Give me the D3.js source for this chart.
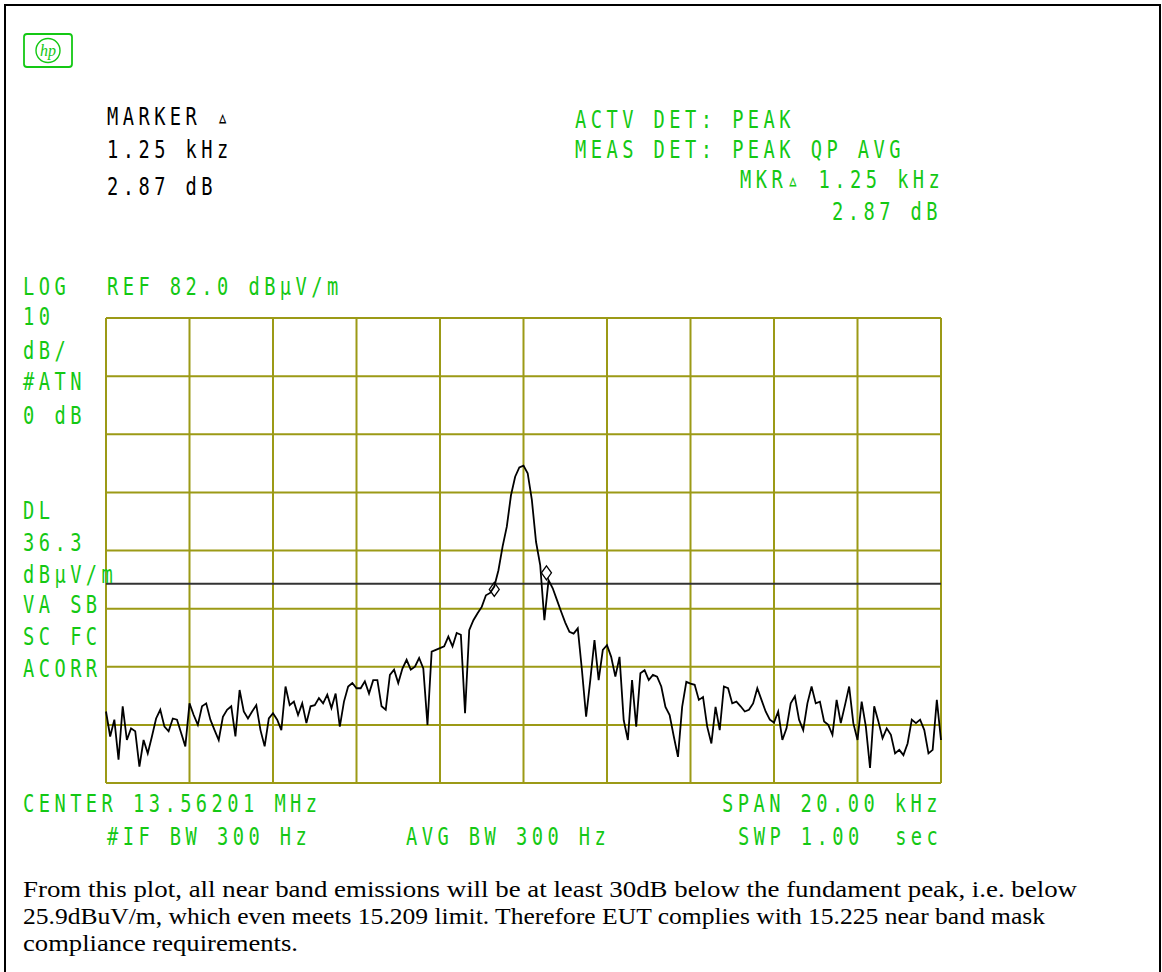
<!DOCTYPE html>
<html>
<head>
<meta charset="utf-8">
<script src="https://cdn.jsdelivr.net/npm/d3@7"></script>
<style>
body{margin:0;background:#fff}
svg{display:block}
text{white-space:pre}
</style>
</head>
<body>
<svg id="c" width="1162" height="972"></svg>
<script>
// ---------- data ----------
const centerMHz = 13.56201;
const spanKHz = 20;
const refLevel = 82.0;      // dBµV/m, top of screen
const dbPerDiv = 10;
const numDivY = 8;
const displayLine = 36.3;   // dBµV/m
const xGridKHz = [-10,-8,-6,-4,-2,0,2,4,6,8,10];
const yGridDb = [2,12,22,32,42,52,62,72,82];

// trace level (dBµV/m), sweep points every 0.1 kHz from -10 kHz to +10 kHz
const levelDb = [
14.3,10.0,12.9,6.0,15.2,9.4,11.4,10.9,4.8,9.4,
7.1,10.0,13.1,14.6,11.7,10.9,13.1,12.9,10.6,8.3,
15.7,13.7,12.0,15.2,15.7,12.9,11.1,9.4,13.4,14.6,
15.2,10.0,18.0,14.3,13.1,14.3,15.4,11.1,8.3,13.1,
14.0,12.9,11.1,18.6,15.4,16.0,13.7,15.7,12.3,15.2,
15.4,16.6,15.7,17.2,14.9,17.4,11.7,16.0,18.6,19.2,
18.3,18.3,19.5,17.4,19.7,19.7,15.2,14.6,20.6,21.5,
19.2,21.7,23.2,21.5,22.0,23.5,21.7,12.0,24.6,24.9,
25.2,25.5,27.2,25.5,27.8,27.5,14.0,28.3,30.0,31.2,
32.3,34.3,34.7,35.8,38.6,42.7,46.1,51.5,54.7,56.3,
56.6,55.3,50.7,43.5,39.5,30.0,36.9,35.5,33.5,31.5,
29.6,28.0,27.7,28.6,21.4,13.4,19.7,26.6,19.7,24.9,
25.7,23.7,20.3,23.7,12.8,9.4,19.7,11.7,20.9,21.4,
19.7,20.6,20.3,18.6,15.1,13.7,10.0,6.5,15.1,19.4,
19.1,18.9,16.3,16.8,11.7,8.8,15.1,11.1,18.6,18.3,
15.7,16.0,15.2,14.3,14.6,15.7,18.3,16.3,14.3,12.9,
12.4,14.3,9.4,11.4,15.7,16.9,12.9,11.1,15.7,18.6,
15.7,16.0,12.6,12.0,10.3,16.3,12.3,15.4,18.6,12.3,
9.4,16.0,11.7,4.6,15.2,12.6,9.7,11.4,10.3,7.1,
7.7,6.8,8.8,12.9,12.3,12.9,11.1,7.1,7.7,16.3,
9.4
];
const markerFreqKHz = [-0.7, 0.55];
const markerDb = [35.3, 38.17];

// annotation texts
const blackHeader = ["MARKER \u25B5", "1.25 kHz", "2.87 dB"];
const greenHeader = ["ACTV DET: PEAK", "MEAS DET: PEAK QP AVG", "MKR\u25B5 1.25 kHz", "2.87 dB"];
const leftLabels = ["10","dB/","#ATN","0 dB","DL","36.3","dB\u00B5V/m","VA SB","SC FC","ACORR"];
const topLabels = ["LOG", "REF 82.0 dB\u00B5V/m"];
const bottomLabels = ["CENTER 13.56201 MHz", "SPAN 20.00 kHz", "#IF BW 300 Hz", "AVG BW 300 Hz", "SWP 1.00  sec"];
const caption = [
 "From this plot, all near band emissions will be at least 30dB below the fundament peak, i.e. below",
 "25.9dBuV/m, which even meets 15.209 limit. Therefore EUT complies with 15.225 near band mask",
 "compliance requirements."
];

// ---------- drawing ----------
const GREEN = "#14c814";
const GRID = "#9c9a16";
const svg = d3.select("#c");

// page frame
svg.append("path").attr("d","M5,990 V5 H1160 V990")
  .attr("fill","none").attr("stroke","#000").attr("stroke-width",2);

const x = d3.scaleLinear().domain([-spanKHz/2, spanKHz/2]).range([106, 941]);
const y = d3.scaleLinear().domain([refLevel - dbPerDiv*numDivY, refLevel]).range([783, 318]);

// graticule
const g = svg.append("g");
g.selectAll("line.v").data(xGridKHz).join("line")
  .attr("x1", d=>x(d)).attr("x2", d=>x(d)).attr("y1", y(yGridDb[0])).attr("y2", y(yGridDb[yGridDb.length-1]))
  .attr("stroke", GRID).attr("stroke-width", 2);
g.selectAll("line.h").data(yGridDb).join("line")
  .attr("y1", d=>y(d)).attr("y2", d=>y(d)).attr("x1", x(-10)).attr("x2", x(10))
  .attr("stroke", GRID).attr("stroke-width", 2);

// display line
svg.append("line").attr("x1", x(-10)).attr("x2", x(10))
  .attr("y1", y(displayLine)).attr("y2", y(displayLine))
  .attr("stroke", "#333").attr("stroke-width", 2);

// trace
const freqs = levelDb.map((d,i)=> -spanKHz/2 + i*spanKHz/(levelDb.length-1));
const line = d3.line().x((d,i)=>x(freqs[i])).y(d=>y(d));
svg.append("path").datum(levelDb).attr("d", line)
  .attr("fill","none").attr("stroke","#000").attr("stroke-width",1.8).attr("stroke-linejoin","miter");

// markers (diamonds)
svg.selectAll("path.mk").data(markerFreqKHz).join("path")
  .attr("d", (d,i)=>{const cx=x(d), cy=y(markerDb[i]); return `M${cx},${cy-7}L${cx+5},${cy}L${cx},${cy+7}L${cx-5},${cy}Z`;})
  .attr("fill","none").attr("stroke","#000").attr("stroke-width",1.3);

// text helper: plotter-like narrow mono text
function txt(s, tx, ty, color){
  return svg.append("text").attr("transform", `translate(${tx},${ty}) scale(0.78,1)`).text(s)
    .attr("font-family","DejaVu Sans Mono, monospace").attr("font-size", 24)
    .attr("letter-spacing", 5.7).attr("fill", color);
}
const blackY = [125, 158, 195];
blackHeader.forEach((s,i)=>txt(s, 107, blackY[i], "#000"));
txt(greenHeader[0], 575, 128, GREEN);
txt(greenHeader[1], 575, 158, GREEN);
txt(greenHeader[2], 740, 188, GREEN);
txt(greenHeader[3], 832, 220, GREEN);
txt(topLabels[0], 23, 295, GREEN);
txt(topLabels[1], 107, 295, GREEN);
const leftY = [325, 359, 390, 424, 519, 551, 583, 613, 645, 677];
leftLabels.forEach((s,i)=>txt(s, 23, leftY[i], GREEN));
txt(bottomLabels[0], 23, 812, GREEN);
txt(bottomLabels[1], 722, 812, GREEN);
txt(bottomLabels[2], 107, 845, GREEN);
txt(bottomLabels[3], 406, 845, GREEN);
txt(bottomLabels[4], 738, 845, GREEN);

// HP logo
const logo = svg.append("g");
logo.append("rect").attr("x",24).attr("y",34).attr("width",48).attr("height",33).attr("rx",3)
  .attr("fill","none").attr("stroke",GREEN).attr("stroke-width",1.8);
logo.append("circle").attr("cx",48).attr("cy",50.5).attr("r",12)
  .attr("fill","none").attr("stroke",GREEN).attr("stroke-width",1.4);
logo.append("text").attr("x",48).attr("y",56).attr("text-anchor","middle")
  .attr("font-family","Liberation Serif, serif").attr("font-style","italic").attr("font-size",16)
  .attr("fill",GREEN).text("hp");

// caption
const capY = [897, 924, 951];
const capWidth = [1054, 1022, 275];
caption.forEach((s,i)=>{
  svg.append("text").attr("x",23).attr("y",capY[i]).text(s)
    .attr("font-family","Liberation Serif, Times New Roman, serif").attr("font-size",24).attr("fill","#000")
    .attr("textLength", capWidth[i]).attr("lengthAdjust","spacingAndGlyphs");
});
</script>
</body>
</html>
